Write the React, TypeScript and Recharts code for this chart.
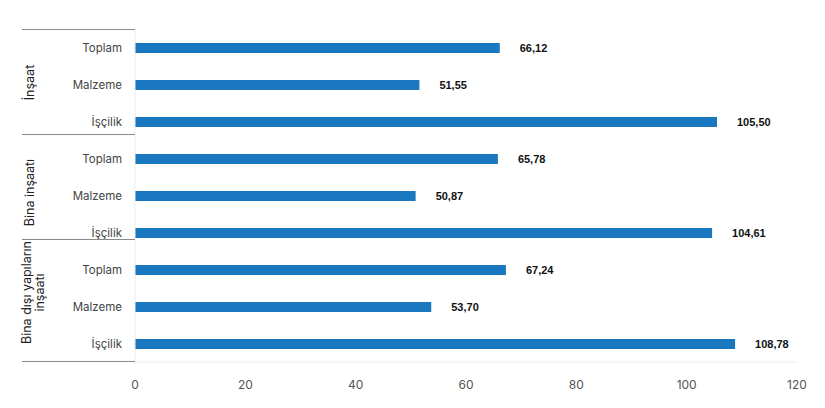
import { BarChart, Bar, XAxis, YAxis, CartesianGrid, LabelList } from 'recharts'

const groups = ['İnşaat', 'Bina inşaatı', 'Bina dışı yapıların inşaatı']
const items = ['Toplam', 'Malzeme', 'İşçilik']
const values = [
  [66.12, 51.55, 105.5],
  [65.78, 50.87, 104.61],
  [67.24, 53.7, 108.78],
]
const xTicks = [0, 20, 40, 60, 80, 100, 120]

const data = groups.flatMap((g, gi) =>
  items.map((name, i) => ({ key: `${gi}-${i}`, group: g, gi, name, value: values[gi][i] })),
)

const font = 'Inter, "Liberation Sans", sans-serif'
const fmt = (v: number) => v.toFixed(2).replace('.', ',')

// separator offsets from the tick centre (where the reference draws the group lines)
const sepOffset: Record<number, number> = { 0: -18, 2: 13, 5: 7, 8: 18 }
const groupShift = [-2, -3, -14]

function CatTick(props: any) {
  const { x, y, payload, index } = props
  const row = data[index]
  const gx = x - 92
  const lineX1 = x - 100
  const lineX2 = x + 13
  return (
    <g>
      <text x={x} y={y} dy={4} textAnchor="end" fontSize={11.5} fill="#444" fontFamily={font}>
        {payload.value}
      </text>
      {sepOffset[index] !== undefined && (
        <line x1={lineX1} x2={lineX2} y1={y + sepOffset[index]} y2={y + sepOffset[index]} stroke="#8a8a8a" strokeWidth={1} />
      )}
      {index % 3 === 1 && (() => {
        const cy = y + groupShift[row.gi]
        const words = row.gi === 2 ? ['Bina dışı yapıların', 'inşaatı'] : [row.group]
        const cx = words.length > 1 ? gx + 4 : gx
        return (
          <text
            transform={`rotate(-90 ${cx} ${cy})`}
            x={cx}
            y={cy}
            textAnchor="middle"
            fontSize={12.5}
            fill="#222"
            fontFamily={font}
          >
            {words.map((w, i) => (
              <tspan key={i} x={cx} dy={i === 0 ? (words.length > 1 ? -3 : 4) : 13}>
                {w}
              </tspan>
            ))}
          </text>
        )
      })()}
    </g>
  )
}

export default function App() {
  return (
    <div style={{ position: 'absolute', left: 0, top: 0, background: '#fff' }}>
      <BarChart
        width={825}
        height={408}
        data={data}
        layout="vertical"
        margin={{ top: 29, right: 28, bottom: 16, left: 0 }}
      >
        <CartesianGrid horizontal={false} vertical={false} />
        <XAxis
          type="number"
          domain={[0, 120]}
          ticks={xTicks}
          tickLine={false}
          axisLine={{ stroke: '#ececec' }}
          tick={{ fontSize: 12, fill: '#555', fontFamily: font }}
          tickMargin={12}
          height={30}
        />
        <YAxis
          type="category"
          dataKey="name"
          width={135}
          tickLine={false}
          tickSize={0}
          tickMargin={13}
          interval={0}
          axisLine={{ stroke: '#ececec' }}
          tick={<CatTick />}
        />
        <Bar dataKey="value" fill="#1a78c0" barSize={10} isAnimationActive={false}>
          <LabelList
            dataKey="value"
            position="right"
            offset={20}
            formatter={(v: any) => fmt(Number(v))}
            style={{ fontSize: 11, fontWeight: 700, fill: '#111', fontFamily: '"Liberation Sans", Arial, sans-serif' }}
          />
        </Bar>
      </BarChart>
    </div>
  )
}
